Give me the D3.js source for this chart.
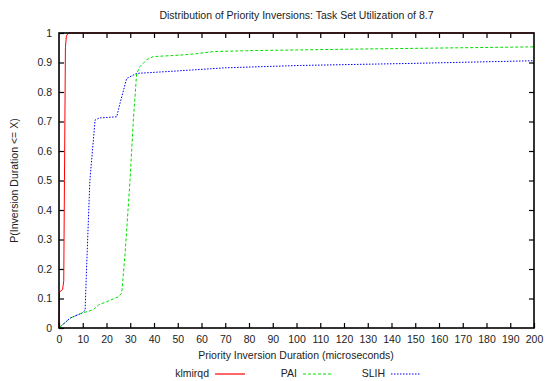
<!DOCTYPE html>
<html>
<head>
<meta charset="utf-8">
<script src="https://cdn.jsdelivr.net/npm/d3@7"></script>
<style>
  body { margin: 0; background: #fff; }
  text { font-family: "Liberation Sans", Arial, sans-serif; font-size: 10.5px; fill: #222; }
</style>
</head>
<body>
<div id="chart"></div>
<script>
const WIDTH = 546;
const HEIGHT = 381;
const MARGIN = { top: 33, right: 12, bottom: 53, left: 59 };

const TITLE = "Distribution of Priority Inversions: Task Set Utilization of 8.7";
const X_LABEL = "Priority Inversion Duration (microseconds)";
const Y_LABEL = "P(Inversion Duration <= X)";

const xTicks = d3.range(0, 201, 10);
const yTicks = d3.range(0, 11).map(d => d / 10);

// curves: [duration, probability]
const klmirqd = [[0, 0], [0.2, 0.12], [0.6, 0.125], [1.5, 0.13], [2.0, 0.16], [2.3, 0.5],
  [2.7, 0.95], [3.1, 0.99], [4, 1.0], [200, 1.0]];
const pai = [[0, 0], [0.4, 0.004], [5, 0.035], [9.5, 0.05], [14.5, 0.062], [16.6, 0.078],
  [20, 0.089], [25, 0.106], [26.4, 0.118], [27.8, 0.25], [29.9, 0.5], [31.3, 0.705],
  [32.7, 0.863], [34.1, 0.886], [37, 0.91], [39.7, 0.92], [51, 0.925], [58, 0.93],
  [65, 0.937], [79, 0.94], [121, 0.945], [160, 0.949], [200, 0.953]];
const slih = [[0, 0], [4.6, 0.033], [9.5, 0.05], [11.0, 0.06], [11.6, 0.2], [13, 0.5],
  [15.2, 0.705], [17, 0.712], [24.3, 0.716], [25.7, 0.762], [28.5, 0.846], [32.7, 0.863],
  [51, 0.872], [70, 0.882], [101.5, 0.89], [149, 0.897], [200, 0.906]];

const seriesNames = ["klmirqd", "PAI", "SLIH"];
const seriesData = [klmirqd, pai, slih];
const seriesColors = ["#ff0000", "#00e000", "#0000ff"];
const seriesDash = [null, "3,2", "1.5,1.5"];

const svg = d3.select("#chart").append("svg")
  .attr("width", WIDTH).attr("height", HEIGHT);

const x = d3.scaleLinear().domain([0, 200]).range([MARGIN.left, WIDTH - MARGIN.right]);
const y = d3.scaleLinear().domain([0, 1]).range([HEIGHT - MARGIN.bottom, MARGIN.top]);

// ticks (inward, mirrored)
svg.append("g").attr("transform", `translate(0,${y(0)})`)
  .call(d3.axisBottom(x).tickValues(xTicks).tickSize(-5).tickPadding(8).tickFormat(d3.format("d")))
  .call(g => g.select(".domain").remove());
svg.append("g").attr("transform", `translate(0,${y(1)})`)
  .call(d3.axisTop(x).tickValues(xTicks.slice(1, -1)).tickSize(-5).tickFormat(""))
  .call(g => g.select(".domain").remove());
svg.append("g").attr("transform", `translate(${x(0)},0)`)
  .call(d3.axisLeft(y).tickValues(yTicks).tickSize(-5).tickPadding(7).tickFormat(d => d === 0 || d === 1 ? d : d.toFixed(1)))
  .call(g => g.select(".domain").remove());
svg.append("g").attr("transform", `translate(${x(200)},0)`)
  .call(d3.axisRight(y).tickValues(yTicks.slice(1, -1)).tickSize(-5).tickFormat(""))
  .call(g => g.select(".domain").remove());

svg.selectAll(".tick line").attr("stroke", "#000").attr("stroke-width", 1.2);
svg.selectAll(".tick text").style("font-size", "10.5px").attr("fill", "#222");

const line = d3.line().x(d => x(d[0])).y(d => y(d[1]));

seriesData.forEach((data, i) => {
  svg.append("path")
    .datum(data)
    .attr("fill", "none")
    .attr("stroke", seriesColors[i])
    .attr("stroke-width", 1)
    .attr("stroke-dasharray", seriesDash[i])
    .attr("d", line);
});

// frame
svg.append("rect")
  .attr("x", x(0)).attr("y", y(1))
  .attr("width", x(200) - x(0)).attr("height", y(0) - y(1))
  .attr("fill", "none").attr("stroke", "#000").attr("stroke-width", 1.6);

svg.append("text")
  .attr("x", (x(0) + x(200)) / 2).attr("y", 19)
  .attr("text-anchor", "middle").text(TITLE);

svg.append("text")
  .attr("x", 296).attr("y", 359)
  .attr("text-anchor", "middle").text(X_LABEL);

svg.append("text")
  .attr("transform", `translate(18,${(y(0) + y(1)) / 2}) rotate(-90)`)
  .attr("text-anchor", "middle").text(Y_LABEL);

// legend
const legendTextX = [209, 297, 385];
const legend = svg.append("g");
seriesNames.forEach((name, i) => {
  legend.append("path")
    .attr("d", `M${legendTextX[i] + 6},374H${legendTextX[i] + 36}`)
    .attr("fill", "none")
    .attr("stroke", seriesColors[i]).attr("stroke-width", 1.2)
    .attr("stroke-dasharray", seriesDash[i]);
  legend.append("text")
    .attr("x", legendTextX[i]).attr("y", 377)
    .attr("text-anchor", "end").text(name);
});
</script>
</body>
</html>
